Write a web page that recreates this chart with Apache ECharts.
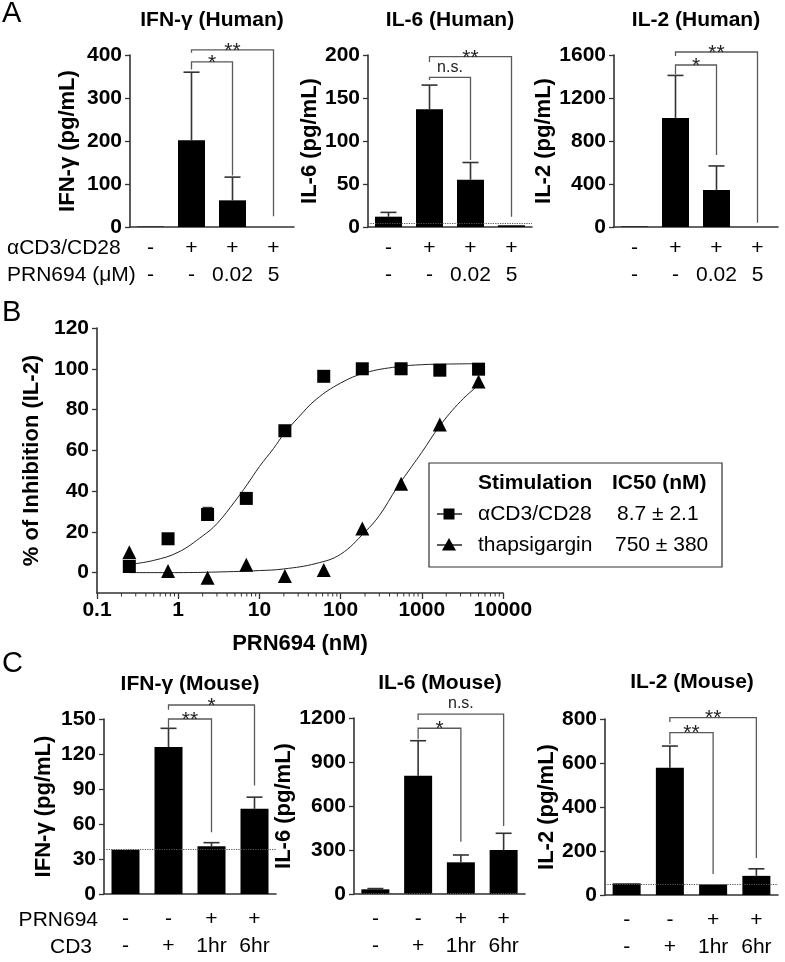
<!DOCTYPE html>
<html><head><meta charset="utf-8">
<script src="https://cdn.jsdelivr.net/npm/echarts@6/dist/echarts.min.js"></script>
<style>html,body{margin:0;padding:0;background:#fff}#c{width:785px;height:962px}</style>
</head><body><div id="c"></div>
<script>
// ---------------- Panel A (human) ----------------
const catsA = ['-\n-', '+\n-', '+\n0.02', '+\n5'];
const ifnHuman = [1, 202, 62, 0];
const ifnHumanErr = [1, 360, 116, 0];
const il6Human = [12, 137, 55, 2];
const il6HumanErr = [17, 165, 75, 2];
const il2Human = [5, 1015, 345, 0];
const il2HumanErr = [5, 1410, 568, 0];
// significance brackets: [fromIdx, toIdx, top, leftLegEnd, rightLegEnd, label]
const ifnHumanSig = [[1, 3, 412, 405, 25, '**'], [1, 2, 384, 366, 120, '*']];
const il6HumanSig = [[1, 3, 198, 192, 12, '**'], [1, 2, 174, 171, 78, 'n.s.']];
const il2HumanSig = [[1, 3, 1628, 1590, 40, '**'], [1, 2, 1507, 1420, 670, '*']];

// ---------------- Panel B (dose response) ----------------
const doses = [0.25, 0.75, 2.3, 6.9, 20.6, 62, 185, 556, 1667, 5000];
const inhibCD3 = [3, 16.6, 28.5, 36.4, 69.6, 96.3, 100, 100, 99.3, 99.8];
const inhibCD3Err = [null, null, 32, null, null, null, null, null, null, null];
const inhibThap = [10, 0.8, -2.5, 3.8, -1.6, 1.3, 21.6, 43.6, 72.6, 93.8];
const fitCD3X = [0.25, 0.5, 1, 2, 3, 5, 7, 10, 15, 20, 30, 50, 100, 200, 500, 1000, 2000, 5000];
const fitCD3Y = [4, 6, 10, 18, 24, 35, 43, 52, 61, 68, 76, 85, 93, 98, 101, 102, 102.3, 102.5];
const fitThapX = [0.25, 1, 3, 10, 20, 50, 100, 200, 300, 500, 750, 1000, 1667, 3000, 5000];
const fitThapY = [0, 0, 0.3, 1, 1.8, 4.5, 9, 20, 28, 42, 52, 59, 72, 84, 92];
const bTickLabels = ['0.1', '1', '10', '100', '1000', '10000'];
const bYTicks = [0, 20, 40, 60, 80, 100, 120];
const legendRows = [['αCD3/CD28', '8.7 ± 2.1'], ['thapsigargin', '750 ± 380']];

// ---------------- Panel C (mouse) ----------------
const catsC = ['-\n-', '-\n+', '+\n1hr', '+\n6hr'];
const ifnMouse = [38, 126, 41, 73];
const ifnMouseErr = [38, 142, 44, 83];
const il6Mouse = [32, 806, 216, 300];
const il6MouseErr = [37, 1045, 266, 414];
const il2Mouse = [53, 578, 48, 87];
const il2MouseErr = [53, 677, 48, 119];
const ifnMouseSig = [[1, 3, 162, 158, 93, '*'], [1, 2, 150, 142, 53, '**']];
const il6MouseSig = [[1, 3, 1227, 1186, 464, 'n.s.'], [1, 2, 1130, 1055, 357, '*']];
const il2MouseSig = [[1, 3, 806, 786, 168, '**'], [1, 2, 738, 685, 95, '**']];

const FONT = "'Liberation Sans', Arial, Helvetica, sans-serif";
const AX = '#333';
const TICKFS = 21, NAMEFS = 22;

const grids = [], xAxes = [], yAxes = [], series = [];

function addBarChart(cfg) {
  const gi = grids.length;
  grids.push({left: cfg.grid[0], top: cfg.grid[1], width: cfg.grid[2], height: cfg.grid[3], containLabel: false});
  xAxes.push({
    type: 'category', gridIndex: gi, data: cfg.cats, boundaryGap: true,
    axisLine: {onZero: false, lineStyle: {color: AX, width: 1.6}},
    axisTick: {alignWithLabel: true, length: 5, lineStyle: {color: AX, width: 1.3}},
    axisLabel: {margin: cfg.labelMargin, fontSize: 21, lineHeight: 27, color: '#000', fontFamily: FONT, interval: 0}
  });
  yAxes.push({
    type: 'value', gridIndex: gi, min: 0, max: cfg.max, interval: cfg.interval,
    name: cfg.yName, nameLocation: 'middle', nameGap: cfg.nameGap,
    nameTextStyle: {fontSize: NAMEFS, fontWeight: 'bold', color: '#000', fontFamily: FONT},
    axisLine: {show: true, lineStyle: {color: AX, width: 1.6}},
    axisTick: {show: true, length: 5, lineStyle: {color: AX, width: 1.3}},
    splitLine: {show: false},
    axisLabel: {margin: 8, fontSize: TICKFS, fontWeight: 'bold', color: '#000', fontFamily: FONT,
      formatter: v => String(v)}
  });
  const bar = {
    type: 'bar', xAxisIndex: gi, yAxisIndex: gi, data: cfg.values, barWidth: cfg.barWidth,
    itemStyle: {color: '#000'}, silent: true, z: 3
  };
  if (cfg.dotted != null) {
    bar.markLine = {
      silent: true, symbol: 'none', label: {show: false},
      lineStyle: {type: 'dotted', color: '#555', width: 1.2},
      data: [{yAxis: cfg.dotted}]
    };
  }
  series.push(bar);
  series.push({
    type: 'custom', xAxisIndex: gi, yAxisIndex: gi, clip: false, silent: true, z: 2,
    data: cfg.values.map((v, i) => [i, v, cfg.errs[i]]),
    encode: {x: 0, y: 1},
    renderItem: function (params, api) {
      const x = api.value(0), v = api.value(1), e = api.value(2);
      if (!(e > v)) return;
      const p0 = api.coord([x, v]), p1 = api.coord([x, e]);
      const hw = 8;
      return {type: 'group', children: [
        {type: 'line', shape: {x1: p0[0], y1: p0[1], x2: p1[0], y2: p1[1]}, style: {stroke: '#333', lineWidth: 1.6}},
        {type: 'line', shape: {x1: p1[0] - hw, y1: p1[1], x2: p1[0] + hw, y2: p1[1]}, style: {stroke: '#333', lineWidth: 1.6}}
      ]};
    }
  });
  const sig = cfg.sig;
  series.push({
    type: 'custom', xAxisIndex: gi, yAxisIndex: gi, clip: false, silent: true, z: 4,
    data: sig.map(s => [s[0], s[1], s[2], s[3], s[4]]),
    encode: {x: 0, y: 2},
    renderItem: function (params, api) {
      const a = api.value(0), b = api.value(1), top = api.value(2), lb = api.value(3), rb = api.value(4);
      const pA = api.coord([a, top]), pB = api.coord([b, top]);
      const pLb = api.coord([a, lb]), pRb = api.coord([b, rb]);
      const lab = sig[params.dataIndex][5];
      const star = lab.indexOf('*') >= 0;
      return {type: 'group', children: [
        {type: 'polyline', shape: {points: [[pA[0], pLb[1]], [pA[0], pA[1]], [pB[0], pB[1]], [pB[0], pRb[1]]]},
          style: {stroke: '#5a5a5a', lineWidth: 1.3, fill: null}},
        {type: 'text', style: {text: lab, x: (pA[0] + pB[0]) / 2, y: star ? pA[1] + 1 : pA[1] - 2,
          align: 'center', verticalAlign: star ? 'middle' : 'bottom', fontSize: star ? 21 : 16,
          fontFamily: FONT, fill: '#222'}}
      ]};
    }
  });
}

addBarChart({grid: [130, 55, 164, 172], cats: catsA, max: 400, interval: 100, yName: 'IFN-γ (pg/mL)', nameGap: 51,
  values: ifnHuman, errs: ifnHumanErr, sig: ifnHumanSig, dotted: null, labelMargin: 8, barWidth: 27});
addBarChart({grid: [368, 55, 164, 172], cats: catsA, max: 200, interval: 50, yName: 'IL-6 (pg/mL)', nameGap: 47,
  values: il6Human, errs: il6HumanErr, sig: il6HumanSig, dotted: 4, labelMargin: 8, barWidth: 27});
addBarChart({grid: [614, 55, 164, 172], cats: catsA, max: 1600, interval: 400, yName: 'IL-2 (pg/mL)', nameGap: 55,
  values: il2Human, errs: il2HumanErr, sig: il2HumanSig, dotted: null, labelMargin: 8, barWidth: 27});
addBarChart({grid: [104, 719, 172, 175], cats: catsC, max: 150, interval: 30, yName: 'IFN-γ (pg/mL)', nameGap: 49,
  values: ifnMouse, errs: ifnMouseErr, sig: ifnMouseSig, dotted: 38, labelMargin: 12, barWidth: 28});
addBarChart({grid: [354, 718, 171, 176], cats: catsC, max: 1200, interval: 300, yName: 'IL-6 (pg/mL)', nameGap: 51,
  values: il6Mouse, errs: il6MouseErr, sig: il6MouseSig, dotted: 8, labelMargin: 12, barWidth: 28});
addBarChart({grid: [605, 719, 173, 176], cats: catsC, max: 800, interval: 200, yName: 'IL-2 (pg/mL)', nameGap: 46,
  values: il2Mouse, errs: il2MouseErr, sig: il2MouseSig, dotted: 50, labelMargin: 12, barWidth: 28});

// ----- Panel B grid -----
const gB = grids.length;
grids.push({left: 97, top: 328, width: 406, height: 265, containLabel: false});
xAxes.push({
  type: 'log', logBase: 10, gridIndex: gB, min: 0.1, max: 10000,
  name: 'PRN694 (nM)', nameLocation: 'middle', nameGap: 40,
  nameTextStyle: {fontSize: NAMEFS, fontWeight: 'bold', color: '#000', fontFamily: FONT},
  axisLine: {onZero: false, lineStyle: {color: AX, width: 1.6}},
  axisTick: {show: true, length: 6, lineStyle: {color: AX, width: 1.3}},
  splitLine: {show: false}, minorTick: {show: false}, minorSplitLine: {show: false},
  axisLabel: {margin: 7, fontSize: TICKFS, fontWeight: 'bold', color: '#000', fontFamily: FONT,
    formatter: (v, i) => bTickLabels[i] != null ? bTickLabels[i] : String(v)}
});
yAxes.push({
  type: 'value', gridIndex: gB, min: -10, max: 120,
  name: '% of Inhibition (IL-2)', nameLocation: 'middle', nameGap: 50,
  nameTextStyle: {fontSize: NAMEFS, fontWeight: 'bold', color: '#000', fontFamily: FONT},
  axisLine: {show: true, onZero: false, lineStyle: {color: AX, width: 1.6}},
  axisTick: {show: true, length: 5, customValues: bYTicks, lineStyle: {color: AX, width: 1.3}},
  splitLine: {show: false},
  axisLabel: {margin: 8, fontSize: TICKFS, fontWeight: 'bold', color: '#000', fontFamily: FONT, customValues: bYTicks}
});
// minor log ticks (2..9 per decade)
const minorTickVals = [];
for (let d = -1; d < 4; d++) for (let m = 2; m <= 9; m++) minorTickVals.push(m * Math.pow(10, d));
series.push({
  type: 'custom', xAxisIndex: gB, yAxisIndex: gB, clip: false, silent: true,
  data: minorTickVals.map(v => [v, -10]), encode: {x: 0, y: 1},
  renderItem: function (params, api) {
    const p = api.coord([api.value(0), api.value(1)]);
    return {type: 'line', shape: {x1: p[0], y1: p[1], x2: p[0], y2: p[1] + 3.5}, style: {stroke: AX, lineWidth: 1}};
  }
});
series.push({type: 'line', xAxisIndex: gB, yAxisIndex: gB, data: fitCD3X.map((x, i) => [x, fitCD3Y[i]]),
  smooth: 0.4, showSymbol: false, lineStyle: {color: '#222', width: 1}, silent: true, z: 2});
series.push({type: 'line', xAxisIndex: gB, yAxisIndex: gB, data: fitThapX.map((x, i) => [x, fitThapY[i]]),
  smooth: 0.4, showSymbol: false, lineStyle: {color: '#222', width: 1}, silent: true, z: 2});
series.push({type: 'custom', xAxisIndex: gB, yAxisIndex: gB, clip: false, silent: true, z: 3,
  data: doses.map((x, i) => [x, inhibCD3[i], inhibCD3Err[i] == null ? inhibCD3[i] : inhibCD3Err[i]]),
  encode: {x: 0, y: 1},
  renderItem: function (params, api) {
    const x = api.value(0), v = api.value(1), e = api.value(2);
    if (!(e > v)) return;
    const p0 = api.coord([x, v]), p1 = api.coord([x, e]);
    return {type: 'group', children: [
      {type: 'line', shape: {x1: p0[0], y1: p0[1], x2: p1[0], y2: p1[1]}, style: {stroke: '#333', lineWidth: 1.2}},
      {type: 'line', shape: {x1: p1[0] - 5, y1: p1[1], x2: p1[0] + 5, y2: p1[1]}, style: {stroke: '#333', lineWidth: 1.2}}
    ]};
  }
});
series.push({type: 'scatter', xAxisIndex: gB, yAxisIndex: gB, data: doses.map((x, i) => [x, inhibCD3[i]]),
  symbol: 'rect', symbolSize: 13, itemStyle: {color: '#000', opacity: 1}, silent: true, z: 4});
series.push({type: 'scatter', xAxisIndex: gB, yAxisIndex: gB, data: doses.map((x, i) => [x, inhibThap[i]]),
  symbol: 'triangle', symbolSize: 14, itemStyle: {color: '#000', opacity: 1}, silent: true, z: 4});

// ----- graphic: panel letters, titles, row headers, legend -----
const T = (text, x, y, opt) => Object.assign({type: 'text', style: Object.assign({text, x, y,
  align: 'left', verticalAlign: 'middle', fontSize: 20, fontFamily: FONT, fill: '#000'}, opt || {})});
const TB = {fontWeight: 'bold', fontSize: 21, align: 'center'};
const graphic = [
  T('A', 2, 14, {fontSize: 29}), T('B', 2, 313, {fontSize: 29}), T('C', 2, 664, {fontSize: 29}),
  T('IFN-γ (Human)', 212, 20, TB),
  T('IL-6 (Human)', 450, 20, TB),
  T('IL-2 (Human)', 696, 20, TB),
  T('IFN-γ (Mouse)', 190, 684, TB),
  T('IL-6 (Mouse)', 440, 683, TB),
  T('IL-2 (Mouse)', 692, 682, TB),
  T('αCD3/CD28', 7, 248, {fontSize: 21}), T('PRN694 (μM)', 7, 275, {fontSize: 21}),
  T('PRN694', 98, 920, {align: 'right', fontSize: 21}), T('CD3', 92, 947, {align: 'right', fontSize: 21}),
  {type: 'rect', shape: {x: 429, y: 463, width: 293, height: 104}, style: {fill: '#fff', stroke: '#333', lineWidth: 1.2}, z: 10},
  Object.assign(T('Stimulation', 478, 483, {fontWeight: 'bold', fontSize: 21}), {z: 11}),
  Object.assign(T('IC50 (nM)', 612, 483, {fontWeight: 'bold', fontSize: 21}), {z: 11}),
  Object.assign(T(legendRows[0][0], 478, 514, {fontSize: 21}), {z: 11}),
  Object.assign(T(legendRows[0][1], 617, 514, {fontSize: 21}), {z: 11}),
  Object.assign(T(legendRows[1][0], 478, 545, {fontSize: 21}), {z: 11}),
  Object.assign(T(legendRows[1][1], 615, 545, {fontSize: 21}), {z: 11}),
  {type: 'line', shape: {x1: 437, y1: 514, x2: 462, y2: 514}, style: {stroke: '#000', lineWidth: 1.3}, z: 11},
  {type: 'rect', shape: {x: 443.5, y: 508.5, width: 11, height: 11}, style: {fill: '#000'}, z: 11},
  {type: 'line', shape: {x1: 437, y1: 545, x2: 462, y2: 545}, style: {stroke: '#000', lineWidth: 1.3}, z: 11},
  {type: 'polygon', shape: {points: [[449, 538], [442, 550.5], [456, 550.5]]}, style: {fill: '#000'}, z: 11}
];

const chart = echarts.init(document.getElementById('c'));
chart.setOption({
  animation: false, backgroundColor: '#fff',
  textStyle: {fontFamily: FONT},
  grid: grids, xAxis: xAxes, yAxis: yAxes, series: series, graphic: graphic
});
</script></body></html>
